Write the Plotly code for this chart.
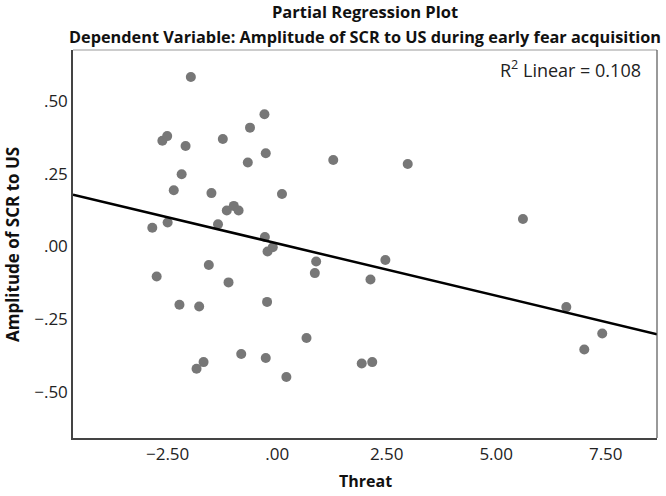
import plotly.graph_objects as go
import numpy as np

# Partial regression residuals
threat = [-1.97, -0.29, -0.62, -2.62, -2.51, -2.09, -1.24, -0.26, -0.67, 1.28,
          -2.18, -2.36, -1.50, 0.11, -1.15, -0.99, -0.88, -2.85, -2.50, -1.35,
          -0.28, -0.22, -0.10, -1.56, 0.89, 0.86, -2.75, -1.11, -2.23, -1.78,
          -0.23, 0.67, -0.82, -0.26, -1.68, -1.84, 0.21, 2.98, 5.61, 2.47,
          2.13, 6.60, 7.42, 7.01, 1.93, 2.17]
amplitude = [0.582, 0.454, 0.408, 0.363, 0.379, 0.345, 0.369, 0.320, 0.288, 0.297,
             0.248, 0.193, 0.183, 0.180, 0.123, 0.139, 0.123, 0.064, 0.082, 0.076,
             0.032, -0.018, -0.003, -0.064, -0.052, -0.092, -0.104, -0.124, -0.201, -0.207,
             -0.191, -0.315, -0.370, -0.384, -0.398, -0.421, -0.449, 0.283, 0.094, -0.047,
             -0.114, -0.209, -0.300, -0.355, -0.403, -0.398]

fit_intercept = 0.010
fit_slope = -0.036
r2_linear = 0.108

x_range = [-4.66, 8.67]
y_range = [-0.659, 0.675]

x_tickvals = [-2.5, 0.0, 2.5, 5.0, 7.5]
x_ticktext = ["\u22122.50", ".00", "2.50", "5.00", "7.50"]
y_tickvals = [0.5, 0.25, 0.0, -0.25, -0.5]
y_ticktext = [".50", ".25", ".00", "\u2212.25", "\u2212.50"]

line_x = np.array(x_range)
line_y = fit_intercept + fit_slope * line_x

FONT = "Open Sans"
PH = 388.0  # plot-area height in px (for placing annotations)
PW = 584.0

fig = go.Figure()
fig.add_trace(go.Scatter(x=threat, y=amplitude, mode="markers",
                         marker=dict(size=10, color="#777777"),
                         showlegend=False, hoverinfo="skip"))
fig.add_trace(go.Scatter(x=line_x, y=line_y, mode="lines",
                         line=dict(color="#000000", width=2.5),
                         showlegend=False, hoverinfo="skip"))

fig.update_layout(
    width=666, height=496,
    margin=dict(l=73, r=9, t=50, b=58, autoexpand=False),
    paper_bgcolor="white", plot_bgcolor="white",
    font=dict(family=FONT, color="#222222", size=14),
    xaxis=dict(range=x_range, tickvals=x_tickvals, ticktext=x_ticktext,
               showgrid=False, zeroline=False, showline=True, automargin=False,
               linecolor="#444444", linewidth=1.5, ticks="",
               tickfont=dict(size=17, color="#222222")),
    yaxis=dict(range=y_range, tickvals=y_tickvals, ticktext=y_ticktext,
               showgrid=False, zeroline=False, showline=True, automargin=False,
               linecolor="#444444", linewidth=1.5, ticks="",
               tickfont=dict(size=17, color="#222222")),
    shapes=[
        dict(type="line", xref="paper", yref="paper", x0=0, x1=1, y0=1, y1=1,
             line=dict(color="#9a9a9a", width=1), layer="above"),
        dict(type="line", xref="paper", yref="paper", x0=1, x1=1, y0=0, y1=1,
             line=dict(color="#555555", width=1.2), layer="above"),
    ],
    annotations=[
        dict(text="<b>Partial Regression Plot</b>", xref="paper", yref="paper",
             x=0.5, y=(438 - 12) / PH, xanchor="center", yanchor="middle",
             showarrow=False, font=dict(size=16.5, family=FONT, color="#111111")),
        dict(text="<b>Dependent Variable: Amplitude of SCR to US during early fear acquisition</b>",
             xref="paper", yref="paper",
             x=0.5, y=(438 - 37) / PH, xanchor="center", yanchor="middle",
             showarrow=False, font=dict(size=16.3, family=FONT, color="#111111")),
        dict(text="R<sup>2</sup> Linear = %.3f" % r2_linear, xref="paper", yref="paper",
             x=(643.3 - 73) / PW, y=(438 - 69) / PH, xanchor="right", yanchor="middle",
             showarrow=False, font=dict(size=18, family=FONT, color="#222222")),
        dict(text="<b>Threat</b>", xref="paper", yref="paper",
             x=0.5, y=(438 - 481) / PH, xanchor="center", yanchor="middle",
             showarrow=False, font=dict(size=16, family=FONT, color="#111111")),
        dict(text="<b>Amplitude of SCR to US</b>", xref="paper", yref="paper",
             x=(12 - 73) / PW, y=(438 - 245) / PH, xanchor="center", yanchor="middle",
             textangle=-90, showarrow=False,
             font=dict(size=17, family=FONT, color="#111111")),
    ],
)

fig.write_html("out.html",
               config={"displayModeBar": False},
               post_script="document.body.style.margin='0';"
                           "document.body.style.overflow='hidden';")
